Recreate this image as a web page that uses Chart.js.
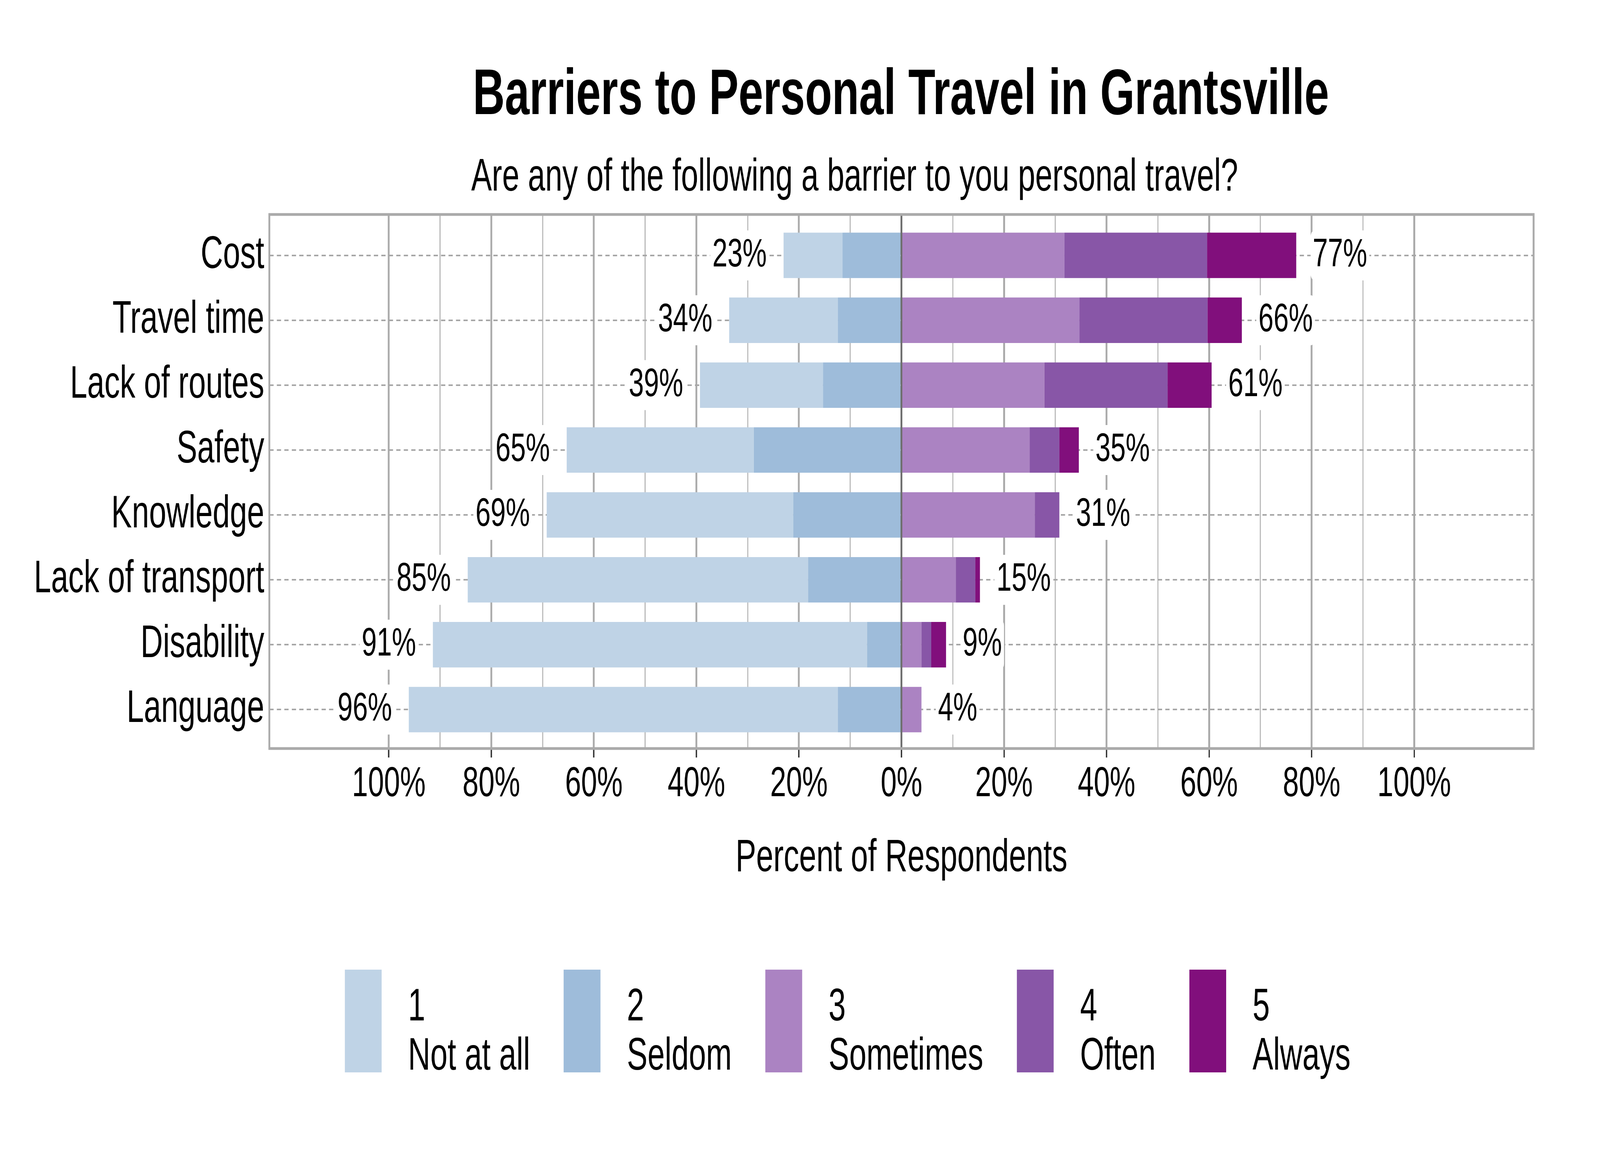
<!DOCTYPE html>
<html>
<head>
<meta charset="utf-8">
<title>Barriers to Personal Travel in Grantsville</title>
<style>
  html, body { margin: 0; padding: 0; background: #ffffff; overflow: hidden; }
  canvas { display: block; transform-origin: 0 0; }
</style>
<script src="https://cdn.jsdelivr.net/npm/chart.js@4.4.0/dist/chart.umd.min.js"></script>
</head>
<body>
<canvas id="chart" width="6000" height="3000" style="width:6000px;height:3000px"></canvas>
<script>
// Diverging stacked bar: negative side = "Not at all"/"Seldom", positive side = the rest
const FONT = "'Liberation Sans', Arial, Helvetica, sans-serif";

const categories = ["Cost", "Travel time", "Lack of routes", "Safety", "Knowledge",
                    "Lack of transport", "Disability", "Language"];

const responseLevels = ["1", "2", "3", "4", "5"];
const responseNames  = ["Not at all", "Seldom", "Sometimes", "Often", "Always"];
const responseColors = ["#bfd3e6", "#9ebcda", "#ab83c2", "#8856a7", "#810f7c"];

// percent of respondents per answer
const notAtAll  = [11.5, 21.2, 24.0, 36.5, 48.1, 66.4, 84.7, 83.7];
const seldom    = [11.5, 12.4, 15.3, 28.8, 21.1, 18.2,  6.7, 12.4];
const sometimes = [31.8, 34.7, 27.9, 25.0, 26.0, 10.6,  3.9,  3.9];
const often     = [27.8, 25.0, 24.0,  5.8,  4.8,  3.8,  1.9,  0.0];
const always    = [17.4,  6.7,  8.6,  3.8,  0.0,  0.9,  2.9,  0.0];

// totals printed beside the bars
const lowLabels  = [23, 34, 39, 65, 69, 85, 91, 96];
const highLabels = [77, 66, 61, 35, 31, 15, 9, 4];

// x axis: grid every 10, labels every 20
const xGridValues  = [-100, -90, -80, -70, -60, -50, -40, -30, -20, -10, 0,
                      10, 20, 30, 40, 50, 60, 70, 80, 90, 100];
const xTickValues  = [-100, -80, -60, -40, -20, 0, 20, 40, 60, 80, 100];
const xTickLabels  = ["100%", "80%", "60%", "40%", "20%", "0%", "20%", "40%", "60%", "80%", "100%"];

const TITLE    = "Barriers to Personal Travel in Grantsville";
const SUBTITLE = "Are any of the following a barrier to you personal travel?";
const X_TITLE  = "Percent of Respondents";

// the drawing is laid out for 6000x3000; if the window came out another size, map it onto the window
const canvasEl = document.getElementById("chart");
const sx = window.innerWidth / 6000, sy = window.innerHeight / 3000;
if (sx > 0 && sy > 0 && (Math.abs(sx - 1) > 0.001 || Math.abs(sy - 1) > 0.001)) {
  canvasEl.style.transform = "scale(" + sx + "," + sy + ")";
}

// one dataset per answer, Seldom first so it stacks next to zero
function makeSet(name, values, sign) {
  const idx = responseNames.indexOf(name);
  return {
    label: name,
    data: values.map((v, i) => ({ x: sign * v, y: i })),
    backgroundColor: responseColors[idx],
    borderWidth: 0,
    categoryPercentage: 0.7,
    barPercentage: 1.0
  };
}

function roundBox(ctx, x, y, w, h, r) {
  ctx.beginPath();
  ctx.moveTo(x + r, y);
  ctx.arcTo(x + w, y, x + w, y + h, r);
  ctx.arcTo(x + w, y + h, x, y + h, r);
  ctx.arcTo(x, y + h, x, y, r);
  ctx.arcTo(x, y, x + w, y, r);
  ctx.closePath();
}

function drawBarLabel(ctx, text, x, y, align) {
  const w = ctx.measureText(text).width;
  const padX = 8, boxH = 128;
  const left = align === "right" ? x - w - padX : x - padX;
  ctx.fillStyle = "#ffffff";
  roundBox(ctx, left, y - boxH / 2, w + 2 * padX, boxH, 16);
  ctx.fill();
  ctx.fillStyle = "#000000";
  ctx.textAlign = align;
  ctx.textBaseline = "middle";
  ctx.fillText(text, x, y);
}

const overlay = {
  id: "overlay",
  beforeDraw(chart) {
    const ctx = chart.ctx;
    ctx.save();
    ctx.fillStyle = "#ffffff";
    ctx.fillRect(0, 0, chart.width, chart.height);
    ctx.restore();
  },
  afterDatasetsDraw(chart) {
    const ctx = chart.ctx;
    const xs = chart.scales.x, ys = chart.scales.y;
    ctx.save();
    ctx.font = "102px " + FONT;
    categories.forEach((cat, i) => {
      const y = ys.getPixelForValue(i);
      const lowEnd  = xs.getPixelForValue(-(notAtAll[i] + seldom[i]));
      const highEnd = xs.getPixelForValue(sometimes[i] + often[i] + always[i]);
      drawBarLabel(ctx, lowLabels[i] + "%", lowEnd - 63, y, "right");
      drawBarLabel(ctx, highLabels[i] + "%", highEnd + 62, y, "left");
    });
    ctx.restore();
  },
  afterDraw(chart) {
    const ctx = chart.ctx;
    const a = chart.chartArea;
    ctx.save();

    // panel frame
    ctx.strokeStyle = "#aaaaaa";
    ctx.lineWidth = 7;
    ctx.strokeRect(a.left, a.top, a.right - a.left, a.bottom - a.top);

    // title + subtitle, left aligned
    ctx.fillStyle = "#000000";
    ctx.textAlign = "left";
    ctx.textBaseline = "alphabetic";
    ctx.font = "bold 166px " + FONT;
    ctx.fillText(TITLE, 1773, 292);
    ctx.font = "116px " + FONT;
    ctx.fillText(SUBTITLE, 1767, 488);

    // legend: key, then two-line label
    let x = 1293;
    responseNames.forEach((name, i) => {
      ctx.fillStyle = responseColors[i];
      ctx.fillRect(x, 2482, 138, 263);
      ctx.fillStyle = "#000000";
      ctx.font = "116px " + FONT;
      const tx = x + 138 + 99;
      ctx.fillText(responseLevels[i], tx, 2612);
      ctx.fillText(name, tx, 2738);
      const w = Math.max(ctx.measureText(responseLevels[i]).width, ctx.measureText(name).width);
      x = tx + w + 126;
    });
    ctx.restore();
  }
};

Chart.defaults.font.family = FONT;

new Chart(canvasEl, {
  type: "bar",
  data: {
    datasets: [
      makeSet("Seldom", seldom, -1),
      makeSet("Not at all", notAtAll, -1),
      makeSet("Sometimes", sometimes, 1),
      makeSet("Often", often, 1),
      makeSet("Always", always, 1)
    ]
  },
  options: {
    indexAxis: "y",
    responsive: false,
    devicePixelRatio: 1,
    animation: false,
    layout: { padding: { top: 549, right: 249, bottom: 744, left: 0 } },
    plugins: {
      legend: { display: false },
      title: { display: false },
      tooltip: { enabled: false }
    },
    scales: {
      x: {
        type: "linear",
        min: -123.3,
        max: 123.3,
        stacked: true,
        offset: false,
        afterBuildTicks: axis => { axis.ticks = xGridValues.map(v => ({ value: v })); },
        afterFit: axis => { axis.height = 340; },
        border: { display: false },
        grid: {
          offset: false,
          color: c => c.tick.value === 0 ? "#6e6e6e" : (c.tick.value % 20 === 0 ? "#ababab" : "#b8b8b8"),
          lineWidth: c => c.tick.value % 20 === 0 ? 7 : 4,
          drawTicks: true,
          tickLength: 23,
          tickWidth: 5,
          tickColor: c => xTickValues.includes(c.tick.value) ? "#333333" : "rgba(0,0,0,0)"
        },
        ticks: {
          color: "#000000",
          font: { size: 108, lineHeight: 1 },
          padding: 15,
          autoSkip: false,
          maxRotation: 0,
          minRotation: 0,
          callback: v => {
            const k = xTickValues.indexOf(v);
            return k > -1 ? xTickLabels[k] : "";
          }
        },
        title: {
          display: true,
          text: X_TITLE,
          color: "#000000",
          font: { size: 116, lineHeight: 1 },
          padding: 0
        }
      },
      y: {
        type: "linear",
        min: -0.63,
        max: 7.6,
        reverse: true,
        stacked: true,
        offset: false,
        afterBuildTicks: axis => { axis.ticks = categories.map((c, i) => ({ value: i })); },
        afterFit: axis => { axis.width = 1010; },
        border: { display: false, dash: [16, 12] },
        grid: { offset: false, color: "#a6a6a6", lineWidth: 4, drawTicks: false },
        ticks: {
          color: "#000000",
          font: { size: 116 },
          padding: 19,
          autoSkip: false,
          callback: v => categories[v]
        }
      }
    }
  },
  plugins: [overlay]
});
</script>
</body>
</html>
